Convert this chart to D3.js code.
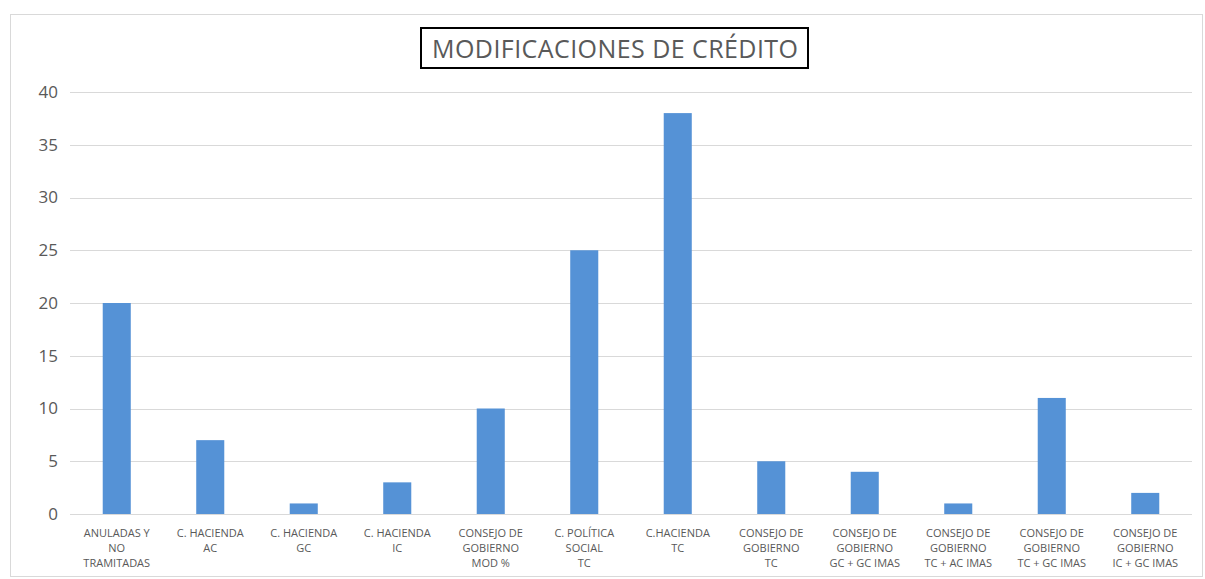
<!DOCTYPE html>
<html>
<head>
<meta charset="utf-8">
<script src="https://cdn.jsdelivr.net/npm/d3@7"></script>
<style>
  body { margin: 0; background: #fff; }
  svg text { font-family: "Open Sans", "Liberation Sans", sans-serif; fill: #595959; }
</style>
</head>
<body>
<svg id="chart" width="1205" height="579"></svg>
<script>
// Categories (multi-line labels) and counts
var categories = [
  ["ANULADAS Y", "NO", "TRAMITADAS"],
  ["C. HACIENDA", "AC"],
  ["C. HACIENDA", "GC"],
  ["C. HACIENDA", "IC"],
  ["CONSEJO DE", "GOBIERNO", "MOD %"],
  ["C. POLÍTICA", "SOCIAL", "TC"],
  ["C.HACIENDA", "TC"],
  ["CONSEJO DE", "GOBIERNO", "TC"],
  ["CONSEJO DE", "GOBIERNO", "GC + GC IMAS"],
  ["CONSEJO DE", "GOBIERNO", "TC + AC IMAS"],
  ["CONSEJO DE", "GOBIERNO", "TC + GC IMAS"],
  ["CONSEJO DE", "GOBIERNO", "IC + GC IMAS"]
];
var values = [20, 7, 1, 3, 10, 25, 38, 5, 4, 1, 11, 2];
var yTicks = [0, 5, 10, 15, 20, 25, 30, 35, 40];
var title = "MODIFICACIONES DE CRÉDITO";

var svg = d3.select("#chart");

// Outer chart frame
svg.append("rect")
  .attr("x", 10.5).attr("y", 14.5)
  .attr("width", 1192).attr("height", 562)
  .attr("fill", "#fff")
  .attr("stroke", "#d9d9d9")
  .attr("stroke-width", 1);

var x = d3.scaleBand()
  .domain(d3.range(values.length))
  .range([70, 1192])
  .paddingInner(0.7)
  .paddingOuter(0.35);

var y = d3.scaleLinear()
  .domain([0, 40])
  .range([514, 92]);

// Gridlines
svg.append("g").selectAll("line")
  .data(yTicks)
  .enter().append("line")
  .attr("x1", 70).attr("x2", 1192)
  .attr("y1", function(d) { return Math.round(y(d)) + 0.5; })
  .attr("y2", function(d) { return Math.round(y(d)) + 0.5; })
  .attr("stroke", "#d9d9d9")
  .attr("stroke-width", 1);

// Y axis tick labels
var yAxis = d3.axisLeft(y).tickValues(yTicks).tickSize(0).tickPadding(12);
var yg = svg.append("g").attr("transform", "translate(70,0)").call(yAxis);
yg.select(".domain").remove();
yg.selectAll("text")
  .style("font-size", "17px")
  .attr("fill", "#595959");

// Bars
svg.append("g").selectAll("rect")
  .data(values)
  .enter().append("rect")
  .attr("x", function(d, i) { return x(i); })
  .attr("y", function(d) { return y(d); })
  .attr("width", x.bandwidth())
  .attr("height", function(d) { return y(0) - y(d); })
  .attr("fill", "#5592d6");

// X labels, one tspan per line
var lbl = svg.append("g").selectAll("text")
  .data(categories)
  .enter().append("text")
  .attr("text-anchor", "middle")
  .style("font-size", "11px");

lbl.selectAll("tspan")
  .data(function(d, i) { return d.map(function(s) { return { s: s, i: i }; }); })
  .enter().append("tspan")
  .attr("x", function(d) { return x(d.i) + x.bandwidth() / 2; })
  .attr("y", function(d, j) { return 537 + j * 15; })
  .text(function(d) { return d.s; });

// Title box
svg.append("rect")
  .attr("x", 421).attr("y", 28)
  .attr("width", 387).attr("height", 40)
  .attr("fill", "#fff")
  .attr("stroke", "#000")
  .attr("stroke-width", 2);

svg.append("text")
  .attr("x", 615).attr("y", 58)
  .attr("text-anchor", "middle")
  .style("font-size", "25px")
  .attr("textLength", 366)
  .text(title);
</script>
</body>
</html>
